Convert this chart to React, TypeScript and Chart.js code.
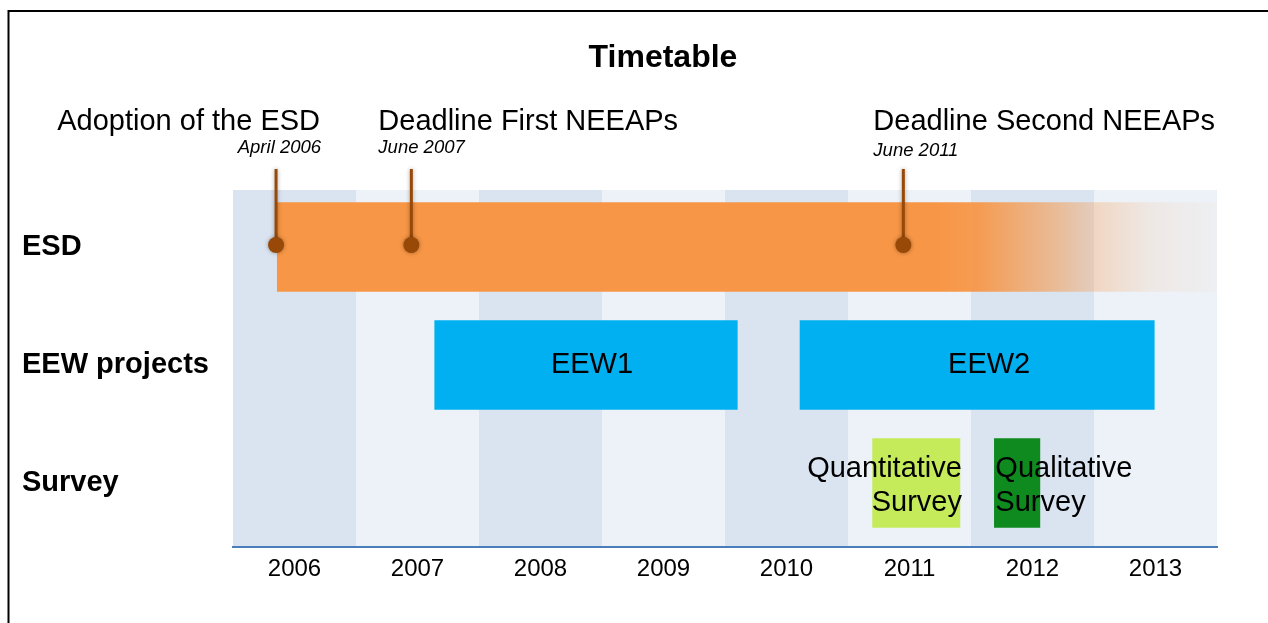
import { useEffect, useRef } from 'react';
import { Chart, registerables } from 'chart.js';

Chart.register(...registerables);

// ---------- data ----------
const TITLE = 'Timetable';
const YEARS = [2006, 2007, 2008, 2009, 2010, 2011, 2012, 2013];
const ROWS = ['ESD', 'EEW projects', 'Survey'];

const BAR_NAMES = ['ESD', 'EEW1', 'EEW2', 'Quantitative Survey', 'Qualitative Survey'];
const BAR_ROWS = [0, 1, 1, 2, 2];
const BAR_STARTS = [2006.36, 2007.64, 2010.61, 2011.2, 2012.19];
const BAR_ENDS = [2014.0, 2010.1, 2013.49, 2011.91, 2012.56];
const BAR_LABELS = [[], ['EEW1'], ['EEW2'], ['Quantitative', 'Survey'], ['Qualitative', 'Survey']];
const ESD_FADE_FROM = 2011.72;

const EVENT_DATES = [2006.35, 2007.45, 2011.45];
const EVENT_TITLES = ['Adoption of the ESD', 'Deadline First NEEAPs', 'Deadline Second NEEAPs'];
const EVENT_SUBTITLES = ['April 2006', 'June 2007', 'June 2011'];

// ---------- styles ----------
const FONT = "'Liberation Sans', Arial, Helvetica, sans-serif";
const BAR_COLORS = ['#F79646', '#00B0F0', '#00B0F0', '#C5EB5B', '#0F8A1F'];
const BAR_LABEL_ALIGN: CanvasTextAlign[] = ['center', 'center', 'center', 'right', 'left'];
const BAR_LABEL_DX = [0, 6, 12, 0, 0];
const BAND_DARK = '#DAE4F0';
const BAND_LIGHT = '#EDF2F8';
const MARKER_COLOR = '#984807';
const EVENT_ALIGN: CanvasTextAlign[] = ['right', 'left', 'left'];
const EVENT_TEXT_DX = [44, -33, -30];
const EVENT_SUB_BASELINE = [153, 153, 156];

const timelinePlugin = {
  id: 'timeline',
  beforeDraw(chart: any) {
    const { ctx, chartArea, scales } = chart;
    if (!chartArea) return;
    const xs = scales.x;
    ctx.save();
    YEARS.forEach((yr, i) => {
      const x0 = xs.getPixelForValue(yr);
      const x1 = xs.getPixelForValue(yr + 1);
      ctx.fillStyle = i % 2 === 0 ? BAND_DARK : BAND_LIGHT;
      ctx.fillRect(x0, chartArea.top, x1 - x0, chartArea.bottom - chartArea.top);
    });
    ctx.restore();
  },
  afterDatasetsDraw(chart: any) {
    const { ctx, chartArea, scales } = chart;
    const xs = scales.x;
    const ys = scales.y;
    const meta = chart.getDatasetMeta(0);
    ctx.save();
    // bar labels
    ctx.fillStyle = '#000';
    ctx.font = `29px ${FONT}`;
    ctx.textBaseline = 'middle';
    meta.data.forEach((el: any, i: number) => {
      const lines = BAR_LABELS[i];
      if (!lines.length) return;
      const left = Math.min(el.x, el.base);
      const right = Math.max(el.x, el.base);
      const align = BAR_LABEL_ALIGN[i];
      ctx.textAlign = align;
      const tx =
        (align === 'center' ? (left + right) / 2 : align === 'right' ? right + 2 : left + 1) + BAR_LABEL_DX[i];
      if (lines.length === 1) {
        ctx.fillText(lines[0], tx, el.y);
      } else {
        ctx.fillText(lines[0], tx, el.y - 14);
        ctx.fillText(lines[1], tx, el.y + 20);
      }
    });
    // event markers
    const rowY = ys.getPixelForValue(0) - 2;
    EVENT_DATES.forEach((d) => {
      const x = xs.getPixelForValue(d);
      ctx.save();
      ctx.shadowColor = 'rgba(0,0,0,0.35)';
      ctx.shadowBlur = 4;
      ctx.strokeStyle = MARKER_COLOR;
      ctx.lineWidth = 3;
      ctx.beginPath();
      ctx.moveTo(x, chartArea.top - 21);
      ctx.lineTo(x, rowY);
      ctx.stroke();
      ctx.fillStyle = MARKER_COLOR;
      ctx.beginPath();
      ctx.arc(x, rowY, 8, 0, Math.PI * 2);
      ctx.fill();
      ctx.restore();
    });
    // event texts
    ctx.fillStyle = '#000';
    ctx.textBaseline = 'alphabetic';
    EVENT_DATES.forEach((d, i) => {
      const x = xs.getPixelForValue(d) + EVENT_TEXT_DX[i];
      ctx.textAlign = EVENT_ALIGN[i];
      ctx.font = `29px ${FONT}`;
      ctx.fillText(EVENT_TITLES[i], x, 130);
      ctx.font = `italic 18.5px ${FONT}`;
      ctx.fillText(EVENT_SUBTITLES[i], x + (EVENT_ALIGN[i] === 'right' ? 1 : 0), EVENT_SUB_BASELINE[i]);
    });
    // title
    ctx.font = `bold 32px ${FONT}`;
    ctx.textAlign = 'center';
    ctx.textBaseline = 'middle';
    ctx.fillText(TITLE, 663, 58);
    // frame
    ctx.strokeStyle = '#000';
    ctx.lineWidth = 2;
    ctx.beginPath();
    ctx.moveTo(8.5, 623);
    ctx.lineTo(8.5, 11);
    ctx.lineTo(1268, 11);
    ctx.stroke();
    ctx.restore();
  },
};

export default function App() {
  const canvasRef = useRef<HTMLCanvasElement | null>(null);

  useEffect(() => {
    document.body.style.margin = '0';
    const canvas = canvasRef.current;
    if (!canvas) return;

    const esdFill = (c: any) => {
      const chart = c.chart;
      const xs = chart.scales?.x;
      if (!xs || !chart.chartArea) return BAR_COLORS[0];
      const x0 = xs.getPixelForValue(ESD_FADE_FROM);
      const x1 = xs.getPixelForValue(2014);
      const g = chart.ctx.createLinearGradient(x0, 0, x1, 0);
      g.addColorStop(0, 'rgba(247,150,70,1)');
      g.addColorStop(0.15, 'rgba(247,150,70,0.93)');
      g.addColorStop(0.44, 'rgba(247,150,70,0.5)');
      g.addColorStop(0.56, 'rgba(247,150,70,0.3)');
      g.addColorStop(0.76, 'rgba(247,150,70,0.11)');
      g.addColorStop(1, 'rgba(247,150,70,0.03)');
      return g;
    };

    const chart = new Chart(canvas, {
      type: 'bar',
      data: {
        datasets: [
          {
            label: 'Timetable',
            data: BAR_NAMES.map((_, i) => ({ x: [BAR_STARTS[i], BAR_ENDS[i]], y: BAR_ROWS[i] })) as any,
            backgroundColor: (c: any) => (c.dataIndex === 0 ? esdFill(c) : BAR_COLORS[c.dataIndex]),
            borderWidth: 0,
            barThickness: 89,
            grouped: false,
          },
        ],
      },
      options: {
        indexAxis: 'y',
        responsive: false,
        animation: false,
        devicePixelRatio: 1,
        layout: { padding: { left: 22, right: 51, top: 190, bottom: 0 } },
        plugins: {
          legend: { display: false },
          title: { display: false },
          tooltip: { enabled: false },
        },
        scales: {
          x: {
            type: 'linear',
            min: 2006,
            max: 2014,
            offset: false,
            grid: { display: false, drawTicks: false },
            border: { display: true, color: '#4A7EBB', width: 2 },
            afterBuildTicks: (s: any) => {
              s.ticks = YEARS.map((y) => ({ value: y + 0.5 }));
            },
            afterFit: (s: any) => {
              s.height = 76;
            },
            ticks: {
              callback: (v: any) => String(Math.floor(Number(v))),
              color: '#000',
              padding: 8,
              maxRotation: 0,
              autoSkip: false,
              font: { family: FONT, size: 24 },
            },
          },
          y: {
            type: 'linear',
            reverse: true,
            offset: false,
            min: -0.483,
            max: 2.542,
            grace: 0,
            grid: { display: false, drawTicks: false },
            border: { display: false },
            afterBuildTicks: (s: any) => {
              s.ticks = ROWS.map((_, i) => ({ value: i }));
            },
            afterFit: (s: any) => {
              s.width = 211;
            },
            ticks: {
              callback: (v: any) => ROWS[Number(v)] ?? '',
              crossAlign: 'far',
              padding: 0,
              color: '#000',
              autoSkip: false,
              font: { family: FONT, size: 29, weight: 'bold' },
            },
          },
        },
      },
      plugins: [timelinePlugin],
    } as any);

    return () => chart.destroy();
  }, []);

  return (
    <div style={{ width: 1268, height: 623 }}>
      <canvas ref={canvasRef} width={1268} height={623} style={{ display: 'block' }} />
    </div>
  );
}
